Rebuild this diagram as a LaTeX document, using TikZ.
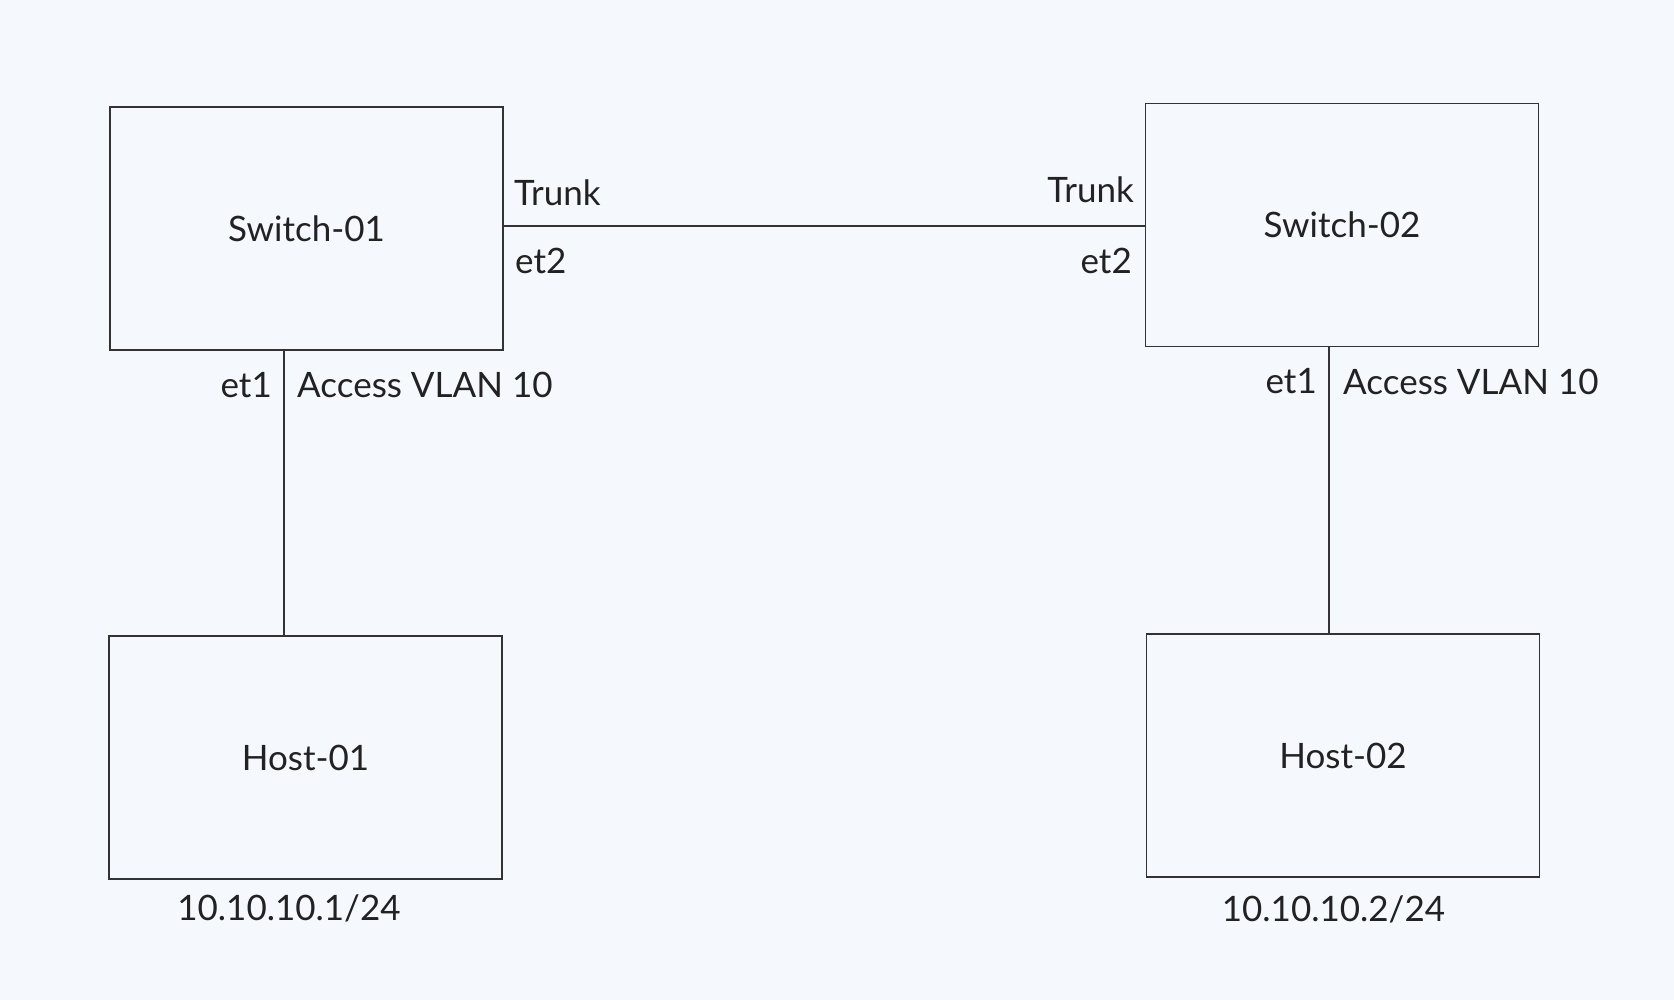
\documentclass[tikz,border=0pt]{standalone}
\usepackage{fontspec}
\setmainfont{Lato}
\definecolor{bgc}{HTML}{F5F8FC}
\definecolor{ink}{HTML}{222222}
\definecolor{edge}{HTML}{333333}
\begin{document}
\begin{tikzpicture}[x=1pt,y=-1pt,
  box/.style={draw=edge,line width=1.5pt,fill=bgc,minimum width=393pt,minimum height=243pt,inner sep=0pt,font=\fontsize{35}{40}\selectfont,text=ink},
  lbl/.style={font=\fontsize{35}{40}\selectfont,text=ink,inner sep=0pt},
  link/.style={draw=edge,line width=1.3pt}]
\fill[bgc] (0,0) rectangle (1674,1000);
\useasboundingbox (0,0) rectangle (1674,1000);
\node[box] (sw1) at (306.5,228.5) {Switch-01};
\node[box] (sw2) at (1342,225) {Switch-02};
\node[box] (h1) at (305.5,757.5) {Host-01};
\node[box] (h2) at (1343,755.5) {Host-02};
\coordinate (t1) at (sw1.east |- 0,226);
\coordinate (t2) at (sw2.west |- 0,226);
\draw[link] (t1) -- (t2);
\coordinate (a1) at (284,0);
\draw[link] (sw1.south -| a1) -- (h1.north -| a1);
\coordinate (a2) at (1329,0);
\draw[link] (sw2.south -| a2) -- (h2.north -| a2);
\node[lbl,anchor=west] (trL) at (514,193) {Trunk};
\node[lbl,anchor=west] (etL) at (515,260.5) {et2};
\node[lbl,anchor=east] (trR) at (1134,190) {Trunk};
\node[lbl,anchor=east] (etR) at (1132,260.5) {et2};
\node[lbl,anchor=east] (e1L) at (272,385) {et1};
\node[lbl,anchor=west] (avL) at (297,385) {Access VLAN 10};
\node[lbl,anchor=east] (e1R) at (1317,381) {et1};
\node[lbl,anchor=west] (avR) at (1343,382) {Access VLAN 10};
\node[lbl] (ip1) at (289,908.5) {10.10.10.1/24};
\node[lbl] (ip2) at (1333.5,909.5) {10.10.10.2/24};
\end{tikzpicture}
\end{document}
